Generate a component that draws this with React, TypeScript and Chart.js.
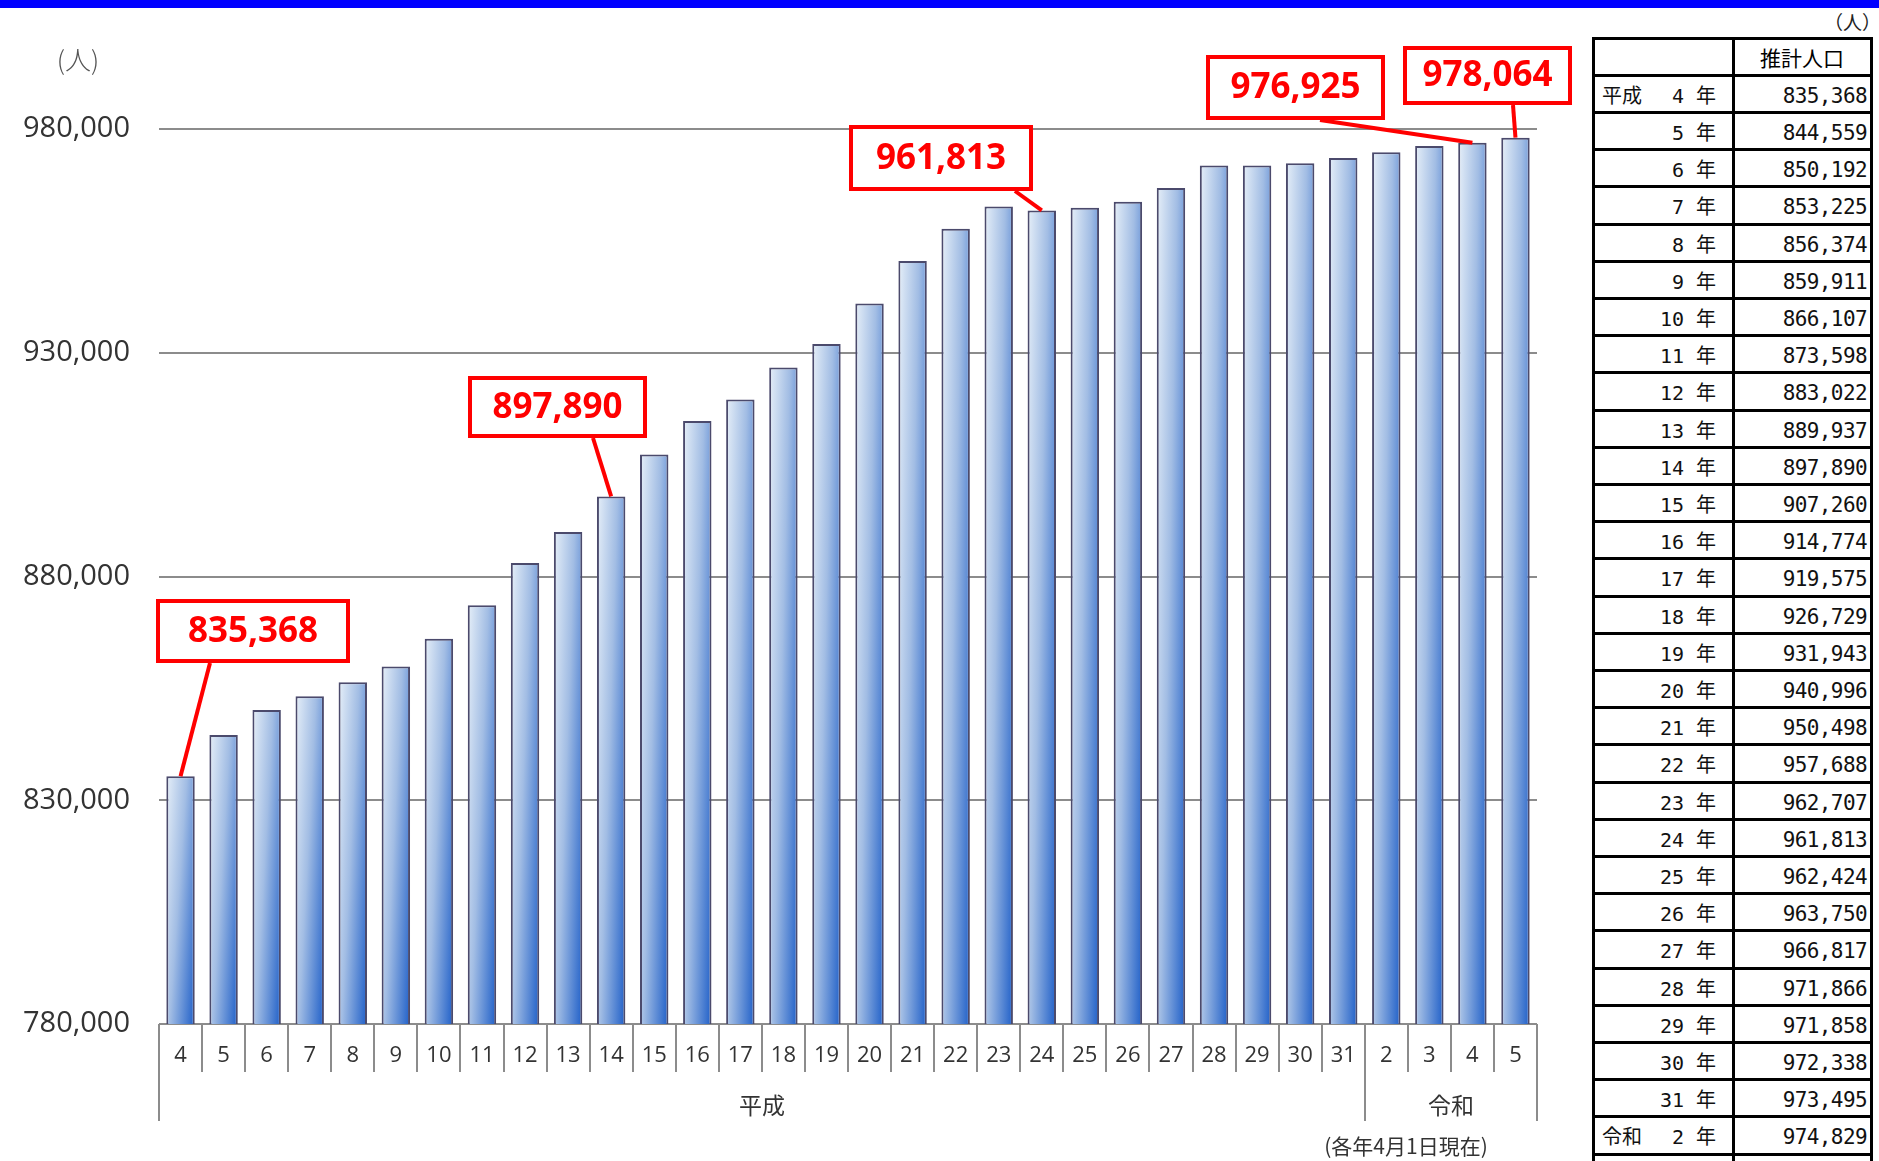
import React, { useEffect, useRef } from "react";
import { Chart, registerables } from "chart.js";

Chart.register(...registerables);

// ---------------- data ----------------
const YEAR_LABELS = [
  "4", "5", "6", "7", "8", "9", "10", "11", "12", "13", "14", "15", "16", "17",
  "18", "19", "20", "21", "22", "23", "24", "25", "26", "27", "28", "29", "30", "31",
  "2", "3", "4", "5",
];
const ERA_NAMES = ["平成", "令和"];
const ERA_SPANS = [28, 4];
const POPULATION = [
  835368, 844559, 850192, 853225, 856374, 859911, 866107, 873598, 883022, 889937,
  897890, 907260, 914774, 919575, 926729, 931943, 940996, 950498, 957688, 962707,
  961813, 962424, 963750, 966817, 971866, 971858, 972338, 973495,
  974829, 976200, 976925, 978064,
];
const Y_MIN = 780000;
const Y_MAX = 980000;
const Y_STEP = 50000;
const HIGHLIGHT_INDEXES = [0, 10, 20, 30, 31];
const TABLE_ROWS = 30; // 平成4年 … 令和3年 (last one cut by the page edge)
const TABLE_HEADER = "推計人口";
const UNIT_LABEL = "(人)";
const FOOTNOTE = "(各年4月1日現在)";

// ---------------- layout / style ----------------
const CANVAS_W = 1580;
const CANVAS_H = 1161;
const BAR_PCT = 0.66;
const CALLOUT_BOXES = [
  { box: [156, 599, 194, 64], from: [210, 663] },
  { box: [468, 376, 179, 62], from: [593, 438] },
  { box: [849, 125, 184, 66], from: [1015, 191] },
  { box: [1206, 55, 179, 65], from: [1320, 120] },
  { box: [1403, 46, 169, 59], from: [1513, 105] },
];
const RED = "#ff0000";
const GRID = "#8c8c8c";

const fmt = (v: number) => v.toLocaleString("en-US");

function barGradient(ctx: any) {
  const fallback = "#7fa6dc";
  const chart = ctx.chart;
  const xs = chart.scales?.x;
  const ys = chart.scales?.y;
  if (!xs || !ys || ctx.type !== "data") return fallback;
  const i = ctx.dataIndex;
  const cx = xs.getPixelForValue(i);
  const w = (xs.width / YEAR_LABELS.length) * BAR_PCT;
  const left = cx - w / 2;
  const top = ys.getPixelForValue(POPULATION[i]);
  const bottom = ys.bottom;
  if (![cx, w, top, bottom].every((v) => Number.isFinite(v))) return fallback;
  const W = Math.max(w, 1);
  const H = Math.max(bottom - top, 1);
  const gx = 0.62 / W;
  const gy = 0.38 / H;
  const g2 = gx * gx + gy * gy;
  const x1 = left + gx / g2;
  const y1 = top + gy / g2;
  if (!Number.isFinite(x1) || !Number.isFinite(y1)) return fallback;
  const g = chart.ctx.createLinearGradient(left, top, x1, y1);
  g.addColorStop(0, "#e6eff8");
  g.addColorStop(0.45, "#a2bde4");
  g.addColorStop(1, "#1f5fc8");
  return g;
}

const decorPlugin = {
  id: "decor",
  afterDraw(chart: any) {
    const { ctx, chartArea } = chart;
    const xs = chart.scales.x;
    const ys = chart.scales.y;
    const n = YEAR_LABELS.length;
    const cw = (chartArea.right - chartArea.left) / n;
    const base = chartArea.bottom;
    ctx.save();

    // category separators
    const longAt = new Set<number>([0]);
    let acc = 0;
    ERA_SPANS.forEach((s) => {
      acc += s;
      longAt.add(acc);
    });
    ctx.strokeStyle = GRID;
    ctx.lineWidth = 2;
    for (let k = 0; k <= n; k++) {
      const x = Math.round(chartArea.left + k * cw);
      ctx.beginPath();
      ctx.moveTo(x, base);
      ctx.lineTo(x, longAt.has(k) ? base + 97 : base + 48);
      ctx.stroke();
    }

    // era labels
    ctx.fillStyle = "#333";
    ctx.font = '23px "Noto Sans CJK JP"';
    ctx.textAlign = "center";
    ctx.textBaseline = "middle";
    let start = 0;
    ERA_NAMES.forEach((name, j) => {
      const x0 = chartArea.left + start * cw;
      const x1 = chartArea.left + (start + ERA_SPANS[j]) * cw;
      ctx.fillText(name, (x0 + x1) / 2, base + 81);
      start += ERA_SPANS[j];
    });

    // footnote
    ctx.font = '21px "Noto Sans CJK JP"';
    ctx.fillText(FOOTNOTE, 1406, 1146);

    // unit
    ctx.font = '300 26px "Noto Sans CJK JP"';
    ctx.fillStyle = "#555";
    ctx.fillText(UNIT_LABEL, 78, 60);

    // callouts
    HIGHLIGHT_INDEXES.forEach((idx, j) => {
      const lay = CALLOUT_BOXES[j];
      const bx = xs.getPixelForValue(idx);
      const by = ys.getPixelForValue(POPULATION[idx]);
      ctx.strokeStyle = RED;
      ctx.lineWidth = 4;
      ctx.beginPath();
      ctx.moveTo(lay.from[0], lay.from[1]);
      ctx.lineTo(bx, by);
      ctx.stroke();
      const [x, y, w, h] = lay.box;
      ctx.fillStyle = "#fff";
      ctx.fillRect(x + 2, y + 2, w - 4, h - 4);
      ctx.strokeRect(x + 2, y + 2, w - 4, h - 4);
      ctx.fillStyle = RED;
      ctx.font = 'bold 35px "Noto Sans"';
      ctx.textAlign = "center";
      ctx.textBaseline = "middle";
      ctx.fillText(fmt(POPULATION[idx]), x + w / 2, y + h / 2 + 1);
    });
    ctx.restore();
  },
};

function PopulationChart() {
  const ref = useRef<HTMLCanvasElement | null>(null);
  useEffect(() => {
    if (!ref.current) return;
    const chart = new Chart(ref.current, {
      type: "bar",
      data: {
        labels: YEAR_LABELS,
        datasets: [
          {
            data: POPULATION,
            backgroundColor: barGradient as any,
            borderColor: "#4b4a6c",
            borderWidth: 2,
            barPercentage: BAR_PCT,
            categoryPercentage: 1,
          },
        ],
      },
      options: {
        responsive: false,
        animation: false,
        devicePixelRatio: 1,
        layout: { padding: { top: 129, right: CANVAS_W - 1537, bottom: 77, left: 0 } },
        plugins: { legend: { display: false }, tooltip: { enabled: false } },
        scales: {
          x: {
            grid: { display: false, drawTicks: false },
            border: { display: false },
            ticks: {
              color: "#333",
              font: { family: '"Open Sans"', size: 22 },
              padding: 19,
              maxRotation: 0,
              autoSkip: false,
            },
            afterFit: (s: any) => {
              s.height = 60;
            },
          },
          y: {
            min: Y_MIN,
            max: Y_MAX,
            grid: { color: GRID, lineWidth: 2, drawTicks: false },
            border: { display: false },
            ticks: {
              stepSize: Y_STEP,
              color: "#333",
              font: { family: '"Open Sans"', size: 29 },
              padding: 29,
              callback: (v: any) => fmt(Number(v)),
            },
            afterFit: (s: any) => {
              s.width = 159;
            },
          },
        },
      },
      plugins: [decorPlugin],
    });
    chart.update();
    return () => chart.destroy();
  }, []);
  return (
    <canvas
      ref={ref}
      width={CANVAS_W}
      height={CANVAS_H}
      style={{ position: "absolute", left: 0, top: 0, width: CANVAS_W, height: CANVAS_H }}
    />
  );
}

function DataTable() {
  const top = 38;
  const rowH = 37.2;
  const cols = [1593, 1733, 1871];
  const lines: React.ReactNode[] = [];
  for (let k = 0; k <= TABLE_ROWS + 1; k++) {
    lines.push(
      <div
        key={"h" + k}
        style={{
          position: "absolute",
          left: cols[0] - 1.5,
          top: top + k * rowH - 1.5,
          width: cols[2] - cols[0] + 3,
          height: 3,
          background: "#000",
        }}
      />
    );
  }
  cols.forEach((x, j) =>
    lines.push(
      <div
        key={"v" + j}
        style={{ position: "absolute", left: x - 1.5, top: top - 1.5, width: 3, height: 1200, background: "#000" }}
      />
    )
  );
  const font = '"DejaVu Sans Mono", "Noto Sans CJK JP", monospace';
  const cells: React.ReactNode[] = [];
  cells.push(
    <div
      key="hdr"
      style={{
        position: "absolute",
        left: cols[1],
        width: cols[2] - cols[1],
        top: top + 1,
        height: rowH,
        lineHeight: rowH + "px",
        textAlign: "center",
        fontFamily: '"Noto Sans CJK JP"',
        fontSize: 21,
        color: "#000",
      }}
    >
      {TABLE_HEADER}
    </div>
  );
  let eraStart = 0;
  const eraStarts = ERA_SPANS.map((s) => {
    const v = eraStart;
    eraStart += s;
    return v;
  });
  for (let i = 0; i < TABLE_ROWS; i++) {
    const y = top + (i + 1) * rowH + 2.5;
    const eraIdx = eraStarts.indexOf(i);
    const base = {
      position: "absolute" as const,
      top: y,
      height: rowH,
      lineHeight: rowH + "px",
      fontFamily: font,
      fontSize: 21,
      color: "#111",
      whiteSpace: "pre" as const,
    };
    if (eraIdx >= 0) {
      cells.push(
        <div key={"e" + i} style={{ ...base, left: 1602, fontSize: 20 }}>
          {ERA_NAMES[eraIdx]}
        </div>
      );
    }
    cells.push(
      <div key={"y" + i} style={{ ...base, left: 1630, width: 86, textAlign: "right", fontSize: 20 }}>
        {YEAR_LABELS[i] + " 年"}
      </div>
    );
    cells.push(
      <div
        key={"v" + i}
        style={{ ...base, left: 1700, width: 167, textAlign: "right", letterSpacing: -0.6 }}
      >
        {fmt(POPULATION[i])}
      </div>
    );
  }
  return (
    <>
      {lines}
      {cells}
    </>
  );
}

export default function App() {
  return (
    <div
      style={{
        position: "fixed",
        left: 0,
        top: 0,
        width: 1879,
        height: 1161,
        overflow: "hidden",
        background: "#fff",
      }}
    >
      <div style={{ position: "absolute", left: 0, top: 0, width: 1879, height: 8, background: "#0000ff" }} />
      <PopulationChart />
      <DataTable />
      <div
        style={{
          position: "absolute",
          left: 1824,
          top: 9,
          fontFamily: '"Noto Sans CJK JP"',
          fontSize: 19,
          color: "#222",
          lineHeight: "26px",
        }}
      >
        {"（人）"}
      </div>
    </div>
  );
}
